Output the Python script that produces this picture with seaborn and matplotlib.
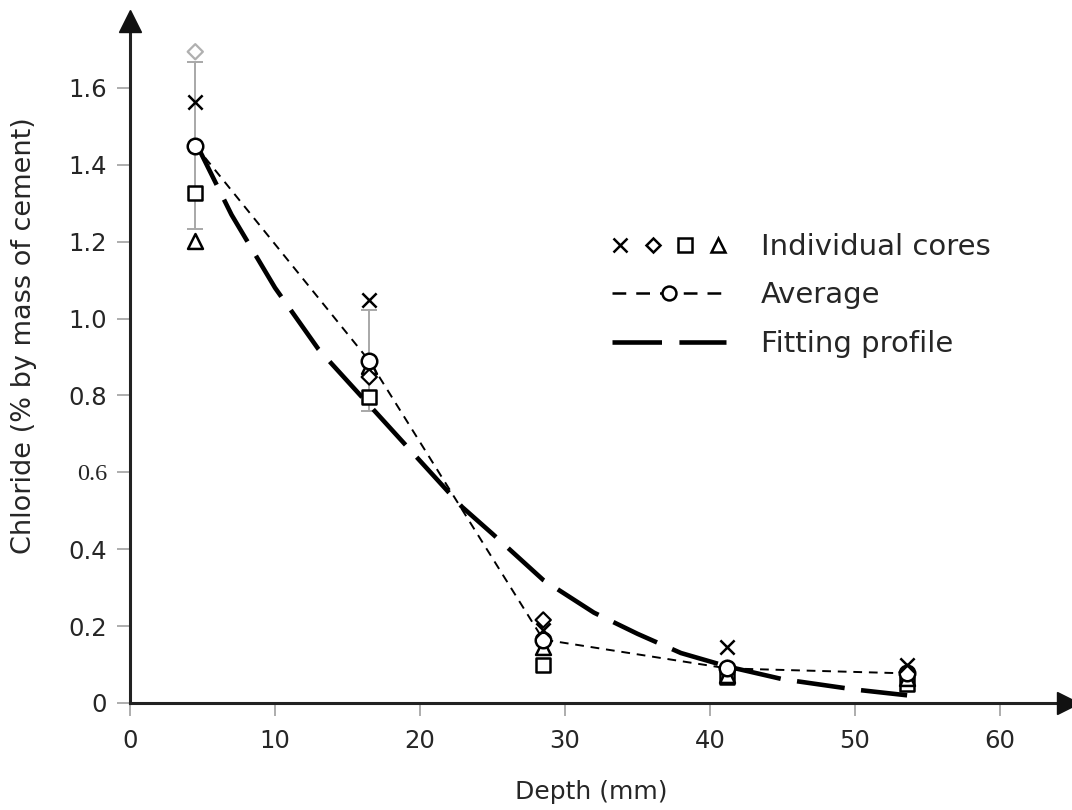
import numpy as np
import pandas as pd
import matplotlib
matplotlib.use("Agg")
import matplotlib.pyplot as plt
import seaborn as sns
from matplotlib.lines import Line2D
from matplotlib.legend_handler import HandlerTuple

# ---- data ----
depth = [4.5, 16.5, 28.5, 41.2, 53.6]
core_x = [1.563, 1.048, 0.190, 0.146, 0.100]
core_diamond = [1.694, 0.848, 0.216, 0.090, 0.080]
core_square = [1.327, 0.796, 0.099, 0.068, 0.050]
core_triangle = [1.202, 0.876, 0.146, 0.072, 0.066]
average = [1.450, 0.890, 0.165, 0.090, 0.077]
avg_err = [0.216, 0.131, 0.0, 0.0, 0.0]

fit_depth = [4.5, 7, 10, 13, 16.5, 20, 22.9, 25, 28.5, 32, 35, 38, 41.2, 45, 50, 53.6]
fit_value = [1.46, 1.27, 1.08, 0.92, 0.775, 0.63, 0.51, 0.44, 0.32, 0.235, 0.18, 0.13, 0.095, 0.062, 0.035, 0.02]

x_ticks = [0, 10, 20, 30, 40, 50, 60]
y_ticks = [0, 0.2, 0.4, 0.6, 0.8, 1.0, 1.2, 1.4, 1.6]
y_ticklabels = ["0", "0.2", "0.4", "0.6", "0.8", "1.0", "1.2", "1.4", "1.6"]

sns.set_style("white")
plt.rcParams["font.family"] = ["DejaVu Sans"]

fig = plt.figure(figsize=(10.72, 8.10), dpi=100)
ax = fig.add_axes([0.1213, 0.1321, 0.875, 0.842])

# error bars
ax.errorbar(depth, average, yerr=avg_err, fmt="none", ecolor="#a8a8a8",
            elinewidth=1.4, capsize=6, capthick=1.4, zorder=1)

fit_df = pd.DataFrame({"depth": fit_depth, "chloride": fit_value})
sns.lineplot(data=fit_df, x="depth", y="chloride", ax=ax, color="black",
             linewidth=3.3, linestyle=(0, (10.5, 3.6)), sort=True, zorder=2)

avg_df = pd.DataFrame({"depth": depth, "chloride": average})
sns.lineplot(data=avg_df, x="depth", y="chloride", ax=ax, color="black",
             linewidth=1.4, linestyle=(0, (4.5, 3.5)), zorder=3)

ms = 115
sns.scatterplot(x=depth, y=core_square, ax=ax, marker="s", s=ms, facecolor="white",
                edgecolor="black", linewidth=1.8, zorder=4)
sns.scatterplot(x=depth, y=core_triangle, ax=ax, marker="^", s=ms, facecolor="white",
                edgecolor="black", linewidth=1.8, zorder=4)
sns.scatterplot(x=depth, y=core_diamond, ax=ax, marker="D", s=60, facecolor="white",
                edgecolor=["#b0b0b0", "black", "black", "black", "black"], linewidth=1.6, zorder=4)
sns.scatterplot(x=depth, y=average, ax=ax, marker="o", s=125, facecolor="white",
                edgecolor="black", linewidth=1.8, zorder=5)
sns.scatterplot(x=depth, y=core_x, ax=ax, marker="x", s=105, color="black",
                linewidth=1.8, zorder=6)

ax.set_xlim(0, 64.7)
ax.set_ylim(0, 1.774)
ax.set_xticks(x_ticks)
ax.set_xticklabels([str(t) for t in x_ticks])
ax.set_yticks(y_ticks)
ax.set_yticklabels(y_ticklabels)
for lab in ax.get_yticklabels():
    if lab.get_text() == "0.6":
        lab.set_family(["Liberation Serif", "DejaVu Serif"])
ax.tick_params(axis="both", labelsize=17.5, length=9.5, width=1.2, color="#a0a0a0",
               direction="out", left=True, bottom=True)
ax.tick_params(axis="y", pad=7)
ax.tick_params(axis="x", pad=9)

for s in ["top", "right"]:
    ax.spines[s].set_visible(False)
for s in ["left", "bottom"]:
    ax.spines[s].set_color("#222222")
    ax.spines[s].set_linewidth(2.2)

# axis arrow heads
ax.plot(1, 0, marker=">", markersize=16, color="#111111", transform=ax.transAxes, clip_on=False, zorder=10)
ax.plot(0, 1, marker="^", markersize=16, color="#111111", transform=ax.transAxes, clip_on=False, zorder=10)

ax.set_xlabel("Depth (mm)", fontsize=18)
ax.xaxis.set_label_coords(0.4915, -0.113)
ax.set_ylabel("Chloride (% by mass of cement)", fontsize=19.5)
ax.yaxis.set_label_coords(-0.099, 0.538)

# legend
h_x = Line2D([], [], marker="x", color="black", linestyle="none", markersize=9.5, markeredgewidth=1.8)
h_d = Line2D([], [], marker="D", markerfacecolor="white", markeredgecolor="black", linestyle="none",
             markersize=7, markeredgewidth=1.8)
h_s = Line2D([], [], marker="s", markerfacecolor="white", markeredgecolor="black", linestyle="none",
             markersize=10, markeredgewidth=1.8)
h_t = Line2D([], [], marker="^", markerfacecolor="white", markeredgecolor="black", linestyle="none",
             markersize=10, markeredgewidth=1.8)
h_avg = Line2D([], [], color="black", linewidth=1.8, linestyle=(0, (5.5, 4)), marker="o",
               markerfacecolor="white", markeredgecolor="black", markersize=10, markeredgewidth=1.8)
h_fit = Line2D([], [], color="black", linewidth=3.3, linestyle=(0, (10.8, 3.8)))
leg = ax.legend([(h_x, h_d, h_s, h_t), h_avg, h_fit],
                ["Individual cores", "Average", "Fitting profile"],
                handler_map={tuple: HandlerTuple(ndivide=None, pad=0.6)},
                loc="upper left", bbox_to_anchor=(0.571, 0.7125), bbox_transform=fig.transFigure,
                frameon=False, borderpad=0, borderaxespad=0,
                fontsize=21, handlelength=3.9, handletextpad=1.2, labelspacing=0.7)

fig.savefig("out.png", dpi=100)
